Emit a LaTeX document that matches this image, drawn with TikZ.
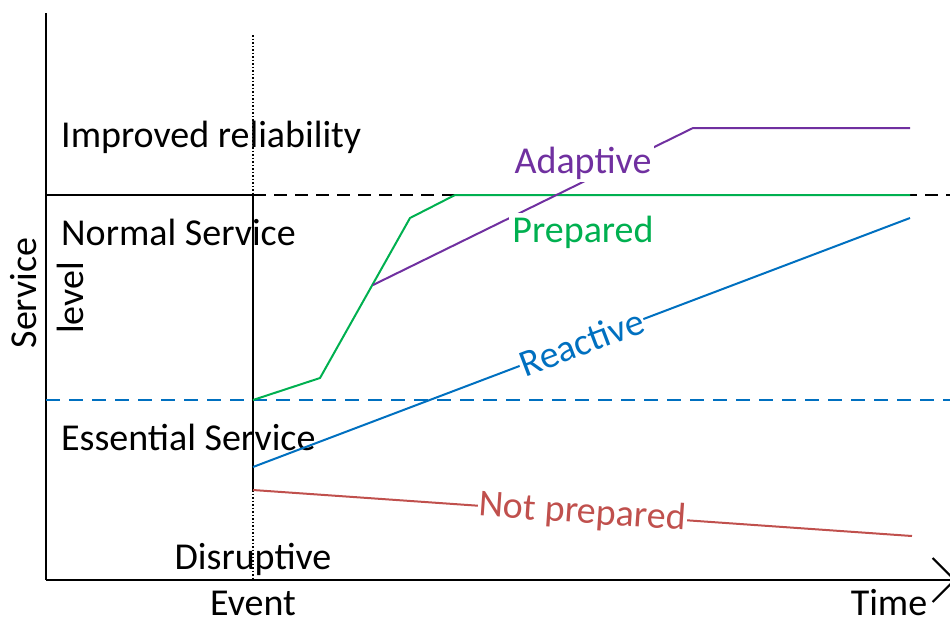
\documentclass[tikz,border=0pt]{standalone}
\usepackage{fontspec}
\setmainfont{Carlito}
\usetikzlibrary{arrows.meta}
\definecolor{adaptcol}{RGB}{112,48,160}
\definecolor{prepcol}{RGB}{0,176,80}
\definecolor{reactcol}{RGB}{0,112,192}
\definecolor{notprepcol}{RGB}{192,80,77}

\begin{document}
\begin{tikzpicture}[x=1pt,y=-1pt]
\tikzset{lbl/.style={font=\fontsize{38}{42}\selectfont, inner sep=0pt},
  curve/.style={line width=2pt},
  cut/.style={lbl, fill=white, inner sep=3pt}}
\useasboundingbox (0,0) rectangle (950,619);
% axes
\coordinate (o) at (46,580);
\coordinate (ytop) at (46,13);
\coordinate (xend) at (956,580);
\draw [black, line width=2pt] (ytop) -- (o);
\draw [black, line width=2pt, -{Straight Barb[length=22pt,width=44pt,line width=2pt]}] (o) -- (xend);
% event line
\coordinate (ev0) at (253,35);
\coordinate (ev1) at (253,580);
\coordinate (evs0) at (253,195);
\coordinate (evs1) at (253,490);
\draw [black, line width=1.5pt, dotted] (ev0) -- (ev1);
\draw [black, line width=2pt] (evs0) -- (evs1);
% levels
\coordinate (nl0) at (46,195);
\coordinate (nl1) at (950,195);
\draw [black, line width=2pt] (nl0) -- (evs0);
\draw [black, line width=2pt, dash pattern=on 13pt off 8pt] (evs0) -- (nl1);
\coordinate (el0) at (46,400);
\coordinate (el1) at (950,400);
\draw [reactcol, line width=2pt, dash pattern=on 14pt off 9pt] (el0) -- (el1);
% texts
\node [lbl, anchor=west] (impr) at (61,137) {Improved reliability};
\node [lbl, anchor=west] (norm) at (61,232) {Normal Service};
\node [lbl, anchor=west] (ess) at (61,437) {Essential Service};
\node [lbl, rotate=90] (serv) at (24,293) {Service};
\node [lbl, rotate=90] (lev) at (70,298) {level};
\node [lbl] (disr) at (253,559) {Disruptive};
\node [lbl] (event) at (253,603) {Event};
\node [lbl] (time) at (889,603) {Time};
% green
\coordinate (g0) at (253,400);
\coordinate (g1) at (320,378);
\coordinate (g2) at (410,218);
\coordinate (g3) at (455,195);
\coordinate (g4) at (910,195);
\draw [prepcol, curve] (g0) -- (g1) -- (g2) -- (g3) -- (g4);
% purple
\coordinate (a0) at (373,285);
\coordinate (a1) at (693,128);
\coordinate (a2) at (910,128);
\draw [adaptcol, curve] (a0) -- (a1) -- (a2);
\node [cut, text=adaptcol] (adapt) at (583,163) {Adaptive};
\node [cut, text=prepcol] (prep) at (583,232) {Prepared};
% blue
\coordinate (r0) at (253,467);
\coordinate (r1) at (910,218);
\draw [reactcol, curve] (r0) -- node [cut, sloped, text=reactcol, inner sep=1pt] (react) {Reactive} (r1);
% red
\coordinate (n0) at (253,490);
\coordinate (n1) at (912,536);
\draw [notprepcol, curve] (n0) -- node [cut, sloped, text=notprepcol, inner sep=1pt] (notprep) {Not prepared} (n1);
\end{tikzpicture}
\end{document}
